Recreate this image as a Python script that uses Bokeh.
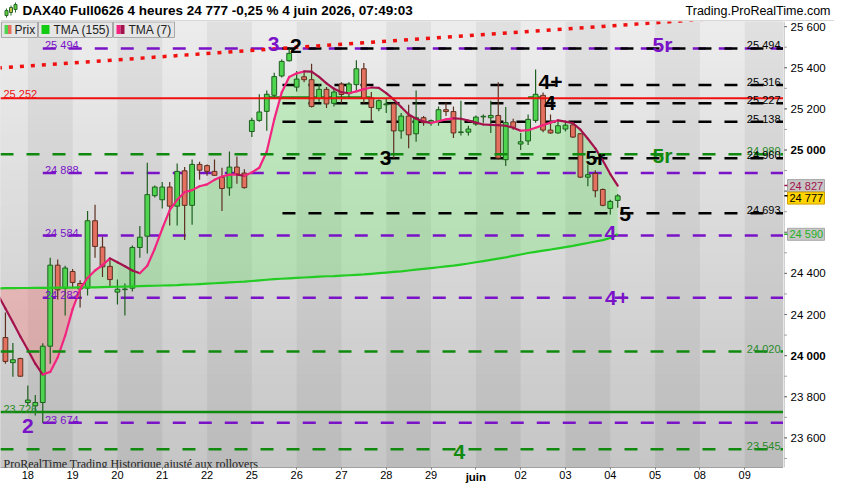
import numpy as np
from bokeh.plotting import figure
from bokeh.layouts import column, row
from bokeh.models import Range1d, FixedTicker, Label, Span, LinearAxis
from bokeh.embed import file_html
from bokeh.resources import INLINE

# ---------------- data ----------------
instrument = "DAX40 Full0626"
timeframe = "4 heures"
change_pct = "-0,25 %"
timestamp = "4 juin 2026, 07:49:03"
site = "Trading.ProRealTime.com"
footer = "ProRealTime Trading  Historique ajusté aux rollovers"

day_labels = ["18", "19", "20", "21", "22", "25", "26", "27", "28", "29",
              "juin", "02", "03", "04", "05", "08", "09"]
month_label = "juin"
first_day_bar = 3
bars_per_day = 6

opens = [24088, 23966, 23986, 23772, 23756, 23772, 24046, 24440, 24328, 24409,
         24351, 24328, 24656, 24528, 24434, 24309, 24321, 24328, 24526, 24581,
         24778, 24758, 24820, 24727, 24899, 24731, 24930, 24924, 24896, 24867,
         24816, 24917, 24888, 25090, 25144, 25188, 25266, 25360, 25434, 25306,
         25356, 25342, 25251, 25295, 25227, 25321, 25274, 25318, 25395, 25254,
         25201, 25220, 25224, 25093, 25165, 25079, 25157, 25133, 25138, 25196,
         25187, 25085, 25087, 25126, 25161, 25157, 25168, 24953, 25137, 25029,
         25044, 25144, 25266, 25097, 25083, 25102, 25122, 25079, 24868, 24886,
         24808, 24716, 24755]
highs = [24210, 24061, 23990, 23855, 23808, 24060, 24476, 24468, 24437, 24421,
         24367, 24703, 24734, 24578, 24468, 24370, 24351, 24536, 24630, 24938,
         24828, 24844, 24844, 24935, 24918, 24954, 24943, 24930, 24954, 24914,
         24993, 24969, 24907, 25157, 25271, 25290, 25376, 25440, 25494, 25384,
         25384, 25420, 25321, 25306, 25298, 25329, 25329, 25436, 25423, 25282,
         25246, 25251, 25230, 25180, 25220, 25290, 25165, 25149, 25212, 25230,
         25212, 25240, 25118, 25168, 25173, 25240, 25329, 25209, 25152, 25083,
         25173, 25392, 25280, 25173, 25141, 25137, 25137, 25083, 24930, 24902,
         24813, 24758, 24786]
lows = [23960, 23897, 23897, 23756, 23709, 23674, 23960, 24273, 24195, 24328,
        24234, 24292, 24476, 24382, 24335, 24249, 24195, 24312, 24476, 24497,
        24769, 24716, 24633, 24633, 24562, 24636, 24855, 24875, 24875, 24703,
        24777, 24836, 24813, 25063, 25138, 25094, 25251, 25353, 25431, 25285,
        25329, 25207, 25235, 25204, 25212, 25227, 25251, 25290, 25227, 25144,
        25188, 25180, 24961, 25055, 25008, 25040, 25118, 25118, 25118, 25165,
        25058, 25071, 25071, 25118, 25133, 25083, 24953, 24922, 25099, 25000,
        25024, 25133, 25087, 25079, 25079, 25090, 25058, 24864, 24824, 24770,
        24727, 24687, 24719]
closes = [23972, 23980, 23900, 23784, 23772, 24046, 24440, 24320, 24426, 24356,
          24324, 24656, 24531, 24432, 24370, 24323, 24324, 24526, 24576, 24783,
          24820, 24820, 24727, 24896, 24731, 24930, 24902, 24896, 24877, 24813,
          24917, 24883, 24817, 25144, 25185, 25271, 25357, 25431, 25470, 25345,
          25342, 25212, 25295, 25224, 25282, 25270, 25321, 25395, 25251, 25207,
          25240, 25224, 25093, 25165, 25074, 25157, 25133, 25143, 25196, 25187,
          25083, 25088, 25102, 25160, 25164, 25168, 24961, 25133, 25110, 25040,
          25149, 25271, 25097, 25083, 25118, 25121, 25063, 24868, 24880, 24802,
          24731, 24750, 24777]

tma_first_bar = -1
tma7 = [24296,
        24229, 24162, 24093, 24029, 23961, 23908, 23921, 23991, 24097, 24226,
        24323, 24378, 24414, 24440, 24473, 24454, 24435, 24414, 24401, 24437,
        24520, 24617, 24708, 24758, 24795, 24805, 24824, 24833, 24855, 24871,
        24880, 24880, 24875, 24891, 24914, 24993, 25149, 25280, 25355, 25373,
        25382, 25381, 25356, 25324, 25298, 25281, 25276, 25285, 25296, 25304,
        25302, 25277, 25246, 25209, 25173, 25152, 25138, 25132, 25140, 25149,
        25154, 25152, 25143, 25133, 25124, 25122, 25121, 25118, 25108, 25094,
        25096, 25108, 25121, 25133, 25144, 25138, 25130, 25099, 25055, 25008,
        24949, 24883, 24827]
tma155 = [24327,
          24328, 24328, 24329, 24329, 24330, 24330, 24330, 24331, 24331, 24331,
          24332, 24332, 24332, 24333, 24334, 24335, 24336, 24337, 24338, 24339,
          24340, 24341, 24342, 24343, 24345, 24346, 24348, 24350, 24352, 24354,
          24356, 24358, 24360, 24363, 24366, 24369, 24372, 24374, 24376, 24378,
          24380, 24382, 24384, 24386, 24387, 24389, 24391, 24393, 24395, 24398,
          24401, 24404, 24407, 24410, 24414, 24418, 24422, 24426, 24430, 24434,
          24438, 24443, 24448, 24454, 24460, 24466, 24472, 24478, 24485, 24492,
          24499, 24505, 24511, 24516, 24522, 24528, 24534, 24541, 24548, 24555,
          24562, 24572, 24590]

trend_bars = [-1, 95]
trend_values = [25399, 25639]

red_level = 25252
purple_levels = [25494, 24888, 24584, 24282, 23674]
purple_from_bar = 5
black_levels = [25494, 25316, 25227, 25138, 24960, 24693]
black_from_bar = 37.1
green_dash_levels = [24980, 24020, 23545]
green_solid_level = 23726
green_zone_level = 25256
green_zone_from = [35.1, 70.0]
green_zone_to = [48.9, 72.1]

# wave labels: text, bar position, level, colour key, vertical offset (px)
wave_labels = [
    ("3", 35.9, 25494, "purple", 4),
    ("2", 38.9, 25494, "black", 2),
    ("4+", 73.0, 25316, "black", 3),
    ("4", 72.9, 25227, "black", 0),
    ("3", 50.9, 24960, "black", 0),
    ("5r", 79.0, 24960, "black", 1),
    ("5", 83.0, 24693, "black", -1),
    ("5r", 88.0, 24980, "green", -1),
    ("5r", 88.0, 25494, "purple", 4),
    ("4", 81.0, 24584, "purple", 3),
    ("4+", 81.9, 24282, "purple", 0),
    ("2", 3.0, 23674, "purple", -3),
    ("4", 60.8, 23545, "green", -3),
]

price_axis_major = list(range(23600, 25601, 200))
price_axis_minor = list(range(23500, 25601, 100))
bold_axis_values = [25000, 24000]

# ---------------- styles ----------------
PURPLE = "#7a12c8"
GREEN_LVL = "#0f8a0f"
GREEN_TXT = "#2a8a2a"
TMA155_C = "#22cc22"
UP_C = "#f2247f"
DN_C = "#a3124c"
FONT = "Liberation Sans"
colour_of = {"purple": PURPLE, "black": "black", "green": GREEN_LVL}

FW, FH = 783, 446
AXW = 51
HEADH = 21
X0, X1 = -0.66, 104.2
Y0, Y1 = 23456, 25625
YPX = (Y1 - Y0) / FH   # price units per pixel


def px2x(px):
    return X0 + px * (X1 - X0) / FW


def py2y(py):
    return Y1 - py * YPX


def fmt(v):
    return f"{int(round(v)):,}".replace(",", " ")


# ======================= main price panel =======================
p = figure(frame_width=FW, frame_height=FH,
           x_range=Range1d(X0, X1), y_range=Range1d(Y0, Y1),
           y_axis_location=None, output_backend="svg", toolbar_location=None,
           min_border_left=0, min_border_right=0, min_border_top=0, min_border_bottom=17,
           border_fill_color="white", background_fill_color="#d8d8d8",
           outline_line_color=None)
p.grid.visible = False

# background vertical gradient
nstrip = 48
edges = np.linspace(Y0, Y1, nstrip + 1)
frac = (np.arange(nstrip) + 0.5) / nstrip
top_rgb = np.array([237, 237, 237])
bot_rgb = np.array([198, 198, 198])
cols = ["#%02x%02x%02x" % tuple((bot_rgb + (top_rgb - bot_rgb) * f).astype(int)) for f in frac]
p.quad(left=X0, right=X1, bottom=edges[:-1], top=edges[1:], fill_color=cols,
       line_color=cols, line_width=1)

# alternating day stripes
day_ticks = [first_day_bar + bars_per_day * k for k in range(len(day_labels))]
bounds = day_ticks + [X1]
dl = [bounds[k] for k in range(0, len(day_ticks), 2)]
dr = [bounds[k + 1] for k in range(0, len(day_ticks), 2)]
p.quad(left=dl, right=dr, bottom=Y0, top=Y1, fill_color="black", fill_alpha=0.05, line_color=None)

# fills between TMA7 and TMA155
tidx = np.arange(tma_first_bar, tma_first_bar + len(tma7))
t7 = np.array(tma7, dtype=float)
t155 = np.array(tma155, dtype=float)
p.varea(x=tidx, y1=t155, y2=np.maximum(t7, t155), fill_color="#5cf05c", fill_alpha=0.28)
p.varea(x=tidx, y1=t155, y2=np.minimum(t7, t155), fill_color="#ff7272", fill_alpha=0.33)

# horizontal levels
p.add_layout(Span(location=red_level, dimension="width", line_color="#f01010", line_width=2))
p.add_layout(Span(location=green_solid_level, dimension="width", line_color=GREEN_LVL, line_width=2.5))
for lv in green_dash_levels:
    p.add_layout(Span(location=lv, dimension="width", line_color=GREEN_LVL, line_width=2.5,
                      line_dash="13 13"))
p.segment(x0=green_zone_from, y0=green_zone_level, x1=green_zone_to, y1=green_zone_level,
          line_color=GREEN_LVL, line_width=2.5)
for lv in purple_levels:
    p.segment(x0=purple_from_bar, y0=lv, x1=X1, y1=lv, line_color=PURPLE, line_width=2.5,
              line_dash="13 13")
for lv in black_levels:
    p.segment(x0=black_from_bar, y0=lv, x1=X1, y1=lv, line_color="black", line_width=2.5,
              line_dash="13 13")

# red dotted trend line
p.line(trend_bars, trend_values, line_color="#f01010", line_width=3.5, line_dash="4 7")

# candles
idx = np.arange(len(opens))
o = np.array(opens); c = np.array(closes)
up = c >= o
body_fill = np.where(up, "#4fd44f", "#e4705f").tolist()
body_line = np.where(up, "#1f5f1f", "#5e3020").tolist()
p.segment(x0=idx, y0=highs, x1=idx, y1=lows, line_color=body_line, line_width=1.2)
p.vbar(x=idx, width=0.64, top=np.maximum(o, c), bottom=np.minimum(o, c),
       fill_color=body_fill, line_color=body_line, line_width=1)

# moving averages
p.line(tidx, t155, line_color=TMA155_C, line_width=2.2)
seg_col = [UP_C if t7[k + 1] >= t7[k] else DN_C for k in range(len(t7) - 1)]
p.segment(x0=tidx[:-1], y0=t7[:-1], x1=tidx[1:], y1=t7[1:], line_color=seg_col,
          line_width=2.2, line_cap="round")

# legend boxes (top-left, inside frame)
box_l = [1, 38, 113]
box_r = [37, 112, 174]
p.quad(left=[px2x(v) for v in box_l], right=[px2x(v) for v in box_r],
       top=py2y(0.5), bottom=py2y(16), fill_color="#e6e6e6", line_color="#a8a8a8", line_width=1)
icon_l = [4, 7.5, 41, 116, 120]
icon_r = [7.5, 11, 49, 120, 124]
icon_c = ["#4fd44f", "#e4705f", "#11cc11", "#f2247f", "#a3124c"]
p.quad(left=[px2x(v) for v in icon_l], right=[px2x(v) for v in icon_r],
       top=py2y(3.5), bottom=py2y(12.5), fill_color=icon_c, line_color=None)


def add_text(fig, x, y, text, color="black", size="11px", bold=False, align="left",
             baseline="alphabetic", yoff=0, font=FONT):
    fig.add_layout(Label(x=x, y=y, text=text, text_color=color, text_font=font,
                         text_font_size=size, text_font_style="bold" if bold else "normal",
                         text_align=align, text_baseline=baseline, y_offset=yoff))


for txt, px in [("Prix", 14), ("TMA (155)", 53), ("TMA (7)", 128)]:
    add_text(p, px2x(px), py2y(8.5), txt, color="#222222", size="12px", baseline="middle")

# left level labels
add_text(p, px2x(3), red_level, fmt(red_level), color="#f01010", yoff=4)
add_text(p, px2x(3), green_solid_level, fmt(green_solid_level), color=GREEN_TXT, yoff=3)
for lv in purple_levels:
    add_text(p, purple_from_bar + 0.3, lv, fmt(lv), color=PURPLE, yoff=3)

# right level labels
for lv in green_dash_levels:
    add_text(p, px2x(FW - 3), lv, fmt(lv), color=GREEN_TXT, align="right", yoff=3)
for lv in black_levels:
    add_text(p, px2x(FW - 3), lv, fmt(lv), color="black", align="right", yoff=3)

# wave labels
for txt, bx, lv, ck, off in wave_labels:
    add_text(p, bx, lv, txt, color=colour_of[ck], size="21px", bold=True, align="center",
             baseline="middle", yoff=off)

# footer text
add_text(p, px2x(3), Y0, footer, color="#222222", size="12px", yoff=4,
         font="Liberation Sans Narrow")

# time axis (month label drawn bold by a second, overlaid axis)
xax = p.xaxis[0]
xax.ticker = FixedTicker(ticks=day_ticks, minor_ticks=[])
xax.major_label_overrides = {t: ("" if lab == month_label else lab) for t, lab in zip(day_ticks, day_labels)}
xax.axis_line_color = "#a0a0a0"
xax.major_tick_line_color = "#808080"
xax.major_tick_out = 2
xax.major_tick_in = 0
xax.major_label_standoff = 1
xax.major_label_text_font = FONT
xax.major_label_text_font_size = "11px"
xax.major_label_text_color = "black"

month_ticks = [t for t, lab in zip(day_ticks, day_labels) if lab == month_label]
ax2 = LinearAxis(ticker=FixedTicker(ticks=month_ticks, minor_ticks=[]),
                 major_label_overrides={t: month_label for t in month_ticks},
                 axis_line_color=None, major_tick_line_color=None, minor_tick_line_color=None,
                 major_tick_out=0, major_tick_in=0, major_label_standoff=-11,
                 major_label_text_font=FONT, major_label_text_font_size="11.5px",
                 major_label_text_font_style="bold", major_label_text_color="black")
p.add_layout(ax2, "below")

# ======================= price axis panel =======================
pa = figure(frame_width=AXW, frame_height=FH, x_range=Range1d(0, AXW), y_range=p.y_range,
            x_axis_location=None, y_axis_location=None, output_backend="svg",
            toolbar_location=None, min_border_left=0, min_border_right=0, min_border_top=0,
            min_border_bottom=17, border_fill_color="white", background_fill_color="white",
            outline_line_color=None)
pa.grid.visible = False
pa.add_layout(Span(location=0.5, dimension="height", line_color="#a0a0a0", line_width=1))
pa.segment(x0=0.5, y0=price_axis_minor, x1=3.5, y1=price_axis_minor, line_color="#a0a0a0", line_width=1)
pa.segment(x0=0.5, y0=price_axis_major, x1=3.5, y1=price_axis_major, line_color="#707070", line_width=1)

last_close = closes[-1]
boxes = [  # value, text colour, fill, border
    (tma7[-1], "#a3124c", "#c6c6c6", "#a8a8a8"),
    (last_close, "black", "#ffd400", "#d0a000"),
    (tma155[-1], "#1eb01e", "#c6c6c6", "#a8a8a8"),
]
box_vals = [b[0] for b in boxes]
for v in price_axis_major:
    if min(abs(v - bv) for bv in box_vals) / YPX < 13:
        continue
    add_text(pa, 7, v, fmt(v), size="11.5px", bold=v in bold_axis_values, baseline="middle")

# place boxes, pushing apart those that would overlap
centers = []
for v, *_ in boxes:
    cy = v
    for prev in centers:
        if abs(prev - cy) / YPX < 12.5:
            cy = prev - 12.5 * YPX if cy < prev else prev + 12.5 * YPX
    centers.append(cy)
for (v, tc, fc, bc), cy in zip(boxes, centers):
    pa.quad(left=4, right=41, bottom=cy - 6 * YPX, top=cy + 6 * YPX, fill_color=fc,
            line_color=bc, line_width=1)
    pa.segment(x0=0.5, y0=v, x1=4, y1=v, line_color=tc, line_width=1.5)
    add_text(pa, 6, cy, fmt(v), color=tc, size="11px", baseline="middle")

# ======================= header bar =======================
HW = FW + AXW
hf = figure(width=HW, height=HEADH, x_range=Range1d(0, HW), y_range=Range1d(0, HEADH),
            x_axis_location=None, y_axis_location=None, output_backend="svg",
            toolbar_location=None, min_border=0, border_fill_color="white",
            background_fill_color="white", outline_line_color=None)
hf.grid.visible = False
hf.segment(x0=0, y0=0.5, x1=HW, y1=0.5, line_color="#b0b0b0", line_width=1)
# small candlestick icon
icon_x = [6, 10.5, 15]
icon_lo = [4, 6, 9]
icon_hi = [13, 16, 19]
icon_b0 = [6, 9, 12]
icon_b1 = [11, 14, 17]
hf.segment(x0=icon_x, y0=icon_lo, x1=icon_x, y1=icon_hi, line_color="#2a6a2a", line_width=1)
hf.quad(left=[v - 1.5 for v in icon_x], right=[v + 1.5 for v in icon_x], bottom=icon_b0,
        top=icon_b1, fill_color=["#5ccc3c", "#c8c040", "#5ccc3c"], line_color="#2a6a2a", line_width=1)
header = f"{instrument} {timeframe} {fmt(last_close)} {change_pct} {timestamp}"
add_text(hf, 22, HEADH / 2 + 0.5, header, size="13.5px", bold=True, baseline="middle")
add_text(hf, HW - 4, HEADH / 2 + 0.5, site, size="12.5px", align="right", baseline="middle")

layout = column(hf, row(p, pa, spacing=0), spacing=0)
open("out.html", "w").write(file_html(layout, INLINE))
